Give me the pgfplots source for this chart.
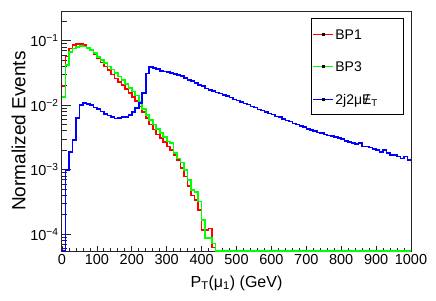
\documentclass[border=0pt]{standalone}
\usepackage{fontspec}
\setmainfont{Liberation Sans}
\usepackage{pgfplots}
\pgfplotsset{compat=1.18}
\usepackage{pgfplotstable}

\pgfplotstableread{
x bp1 bp3 bkg
0 0.020 0.0135 5.5e-5
10 0.057 0.042 0.0010
20 0.076 0.066 0.0019
30 0.086 0.076 0.0029
40 0.089 0.080 0.0063
50 0.088 0.082 0.0100
60 0.085 0.081 0.0107
70 0.078 0.077 0.0105
80 0.070 0.072 0.0100
90 0.061 0.064 0.0092
100 0.053 0.056 0.0087
110 0.046 0.050 0.0080
120 0.040 0.045 0.0073
130 0.035 0.040 0.0069
140 0.030 0.0355 0.0065
150 0.026 0.0316 0.0062
160 0.023 0.028 0.0063
170 0.0204 0.0245 0.0065
180 0.0178 0.0214 0.0066
190 0.0155 0.0186 0.0071
200 0.0135 0.0162 0.0079
210 0.0115 0.0141 0.0090
220 0.0095 0.0112 0.0107
230 0.0079 0.0087 0.0153
240 0.0063 0.0071 0.031
250 0.0050 0.0059 0.039
260 0.0042 0.0050 0.038
270 0.0035 0.0043 0.036
280 0.0031 0.0037 0.034
290 0.0027 0.0032 0.0335
300 0.0023 0.00275 0.0325
310 0.0020 0.0026 0.0315
320 0.0017 0.0018 0.0305
330 0.0014 0.0015 0.0295
340 0.00107 0.0013 0.0282
350 0.00079 0.0010 0.0265
360 0.00056 0.00069 0.0248
370 0.00040 0.00049 0.0236
380 0.00034 0.00045 0.0222
390 0.00024 0.00032 0.0205
400 0.000117 0.000166 0.0197
410 0.000117 0.000087 0.0182
420 0.000123 0.000087 0.0172
430 0.000062 0.000072 0.0166
440 5.5e-5 5.5e-5 0.0158
450 5.5e-5 5.5e-5 0.0152
460 5.5e-5 5.5e-5 0.0145
470 5.5e-5 5.5e-5 0.0139
480 5.5e-5 5.5e-5 0.0132
490 5.5e-5 5.5e-5 0.0123
500 5.5e-5 5.5e-5 0.0118
510 5.5e-5 5.5e-5 0.0113
520 5.5e-5 5.5e-5 0.0106
530 5.5e-5 5.5e-5 0.0103
540 5.5e-5 5.5e-5 0.0095
550 5.5e-5 5.5e-5 0.0092
560 5.5e-5 5.5e-5 0.0086
570 5.5e-5 5.5e-5 0.0083
580 5.5e-5 5.5e-5 0.0079
590 5.5e-5 5.5e-5 0.0074
600 5.5e-5 5.5e-5 0.0072
610 5.5e-5 5.5e-5 0.0067
620 5.5e-5 5.5e-5 0.0065
630 5.5e-5 5.5e-5 0.0061
640 5.5e-5 5.5e-5 0.0058
650 5.5e-5 5.5e-5 0.0056
660 5.5e-5 5.5e-5 0.0052
670 5.5e-5 5.5e-5 0.0050
680 5.5e-5 5.5e-5 0.0048
690 5.5e-5 5.5e-5 0.0046
700 5.5e-5 5.5e-5 0.0043
710 5.5e-5 5.5e-5 0.0041
720 5.5e-5 5.5e-5 0.0040
730 5.5e-5 5.5e-5 0.0038
740 5.5e-5 5.5e-5 0.0037
750 5.5e-5 5.5e-5 0.0035
760 5.5e-5 5.5e-5 0.0034
770 5.5e-5 5.5e-5 0.0033
780 5.5e-5 5.5e-5 0.0032
790 5.5e-5 5.5e-5 0.0031
800 5.5e-5 5.5e-5 0.0030
810 5.5e-5 5.5e-5 0.0028
820 5.5e-5 5.5e-5 0.0027
830 5.5e-5 5.5e-5 0.0026
840 5.5e-5 5.5e-5 0.0025
850 5.5e-5 5.5e-5 0.0026
860 5.5e-5 5.5e-5 0.0023
870 5.5e-5 5.5e-5 0.0023
880 5.5e-5 5.5e-5 0.0022
890 5.5e-5 5.5e-5 0.0021
900 5.5e-5 5.5e-5 0.0020
910 5.5e-5 5.5e-5 0.0019
920 5.5e-5 5.5e-5 0.0020
930 5.5e-5 5.5e-5 0.0018
940 5.5e-5 5.5e-5 0.0017
950 5.5e-5 5.5e-5 0.0017
960 5.5e-5 5.5e-5 0.0016
970 5.5e-5 5.5e-5 0.0015
980 5.5e-5 5.5e-5 0.0016
990 5.5e-5 5.5e-5 0.0014
1000 5.5e-5 5.5e-5 0.0014
}\datatable

\newcommand{\Emiss}{\ooalign{E\cr\hidewidth/\hidewidth\cr}}
\definecolor{rootred}{RGB}{255,0,0}
\definecolor{rootgreen}{RGB}{0,255,0}
\definecolor{rootblue}{RGB}{0,0,255}
\newcommand{\legline}[1]{\makebox[20pt][l]{\textcolor{#1}{\rule[4.5pt]{20pt}{1.1pt}}\hspace*{-11.5pt}\rule[3.55pt]{3pt}{3pt}}}

\begin{document}
\begin{tikzpicture}
\path[use as bounding box] (0,0) rectangle (436pt,300pt);
\begin{axis}[
  at={(62pt,49pt)}, anchor=south west,
  scale only axis, width=349pt, height=240pt,
  ymode=log, xmin=0, xmax=1000, ymin=5.5e-5, ymax=0.288,
  clip=false,
  axis line style={line width=1pt, black!85},
  tick align=inside, xtick pos=bottom, ytick pos=left,
  xtick={0,100,...,1000}, minor x tick num=4,
  ytick={1e-4,1e-3,1e-2,1e-1},
  yticklabels={10\textsuperscript{−4},10\textsuperscript{−3},10\textsuperscript{−2},10\textsuperscript{−1}},
  minor ytick={6e-5,7e-5,8e-5,9e-5,2e-4,3e-4,4e-4,5e-4,6e-4,7e-4,8e-4,9e-4,2e-3,3e-3,4e-3,5e-3,6e-3,7e-3,8e-3,9e-3,2e-2,3e-2,4e-2,5e-2,6e-2,7e-2,8e-2,9e-2,0.2},
  tick style={black!85, line width=0.8pt},
  major tick length=9pt, minor tick length=5pt,
  major x tick style={/pgfplots/major tick length=5.5pt},
  minor x tick style={/pgfplots/minor tick length=3pt},
  ticklabel style={font=\fontsize{14.5}{16}\selectfont},
  /pgf/number format/assume math mode=true,
  /pgf/number format/1000 sep={},
  xlabel={P\textsubscript{T}(μ\textsubscript{1}) (GeV)},
  xlabel style={font=\fontsize{16}{18}\selectfont, at={(axis description cs:0.5,-0.15)}, anchor=base},
  ylabel={Normalized Events},
  ylabel style={font=\fontsize{19}{21}\selectfont, at={(axis description cs:-0.1046,0.5)}, anchor=base, rotate=0},
]
\addplot[draw=rootred, line width=1.6pt, const plot mark left] table[x=x, y=bp1] {\datatable};
\addplot[draw=rootgreen, line width=1.6pt, const plot mark left] table[x=x, y=bp3] {\datatable};
\addplot[draw=rootblue, line width=1.6pt, const plot mark left] table[x=x, y=bkg] {\datatable};
\end{axis}
\node[draw=black, line width=0.8pt, fill=white, inner xsep=2pt, inner ysep=0pt, anchor=north west,
      font=\fontsize{14}{16}\selectfont] at (311pt,282pt)
  {\vbox{\baselineskip=32.5pt\lineskiplimit=-\maxdimen
    \hbox to 88pt{\rule{0pt}{21pt}\legline{rootred}\hspace{2pt}BP1\hfil}
    \hbox to 88pt{\legline{rootgreen}\hspace{2pt}BP3\hfil}
    \hbox to 88pt{\rule[-10pt]{0pt}{10pt}\legline{rootblue}\hspace{2pt}2j2μ\Emiss\textsubscript{T}\hfil}}};
\end{tikzpicture}
\end{document}
